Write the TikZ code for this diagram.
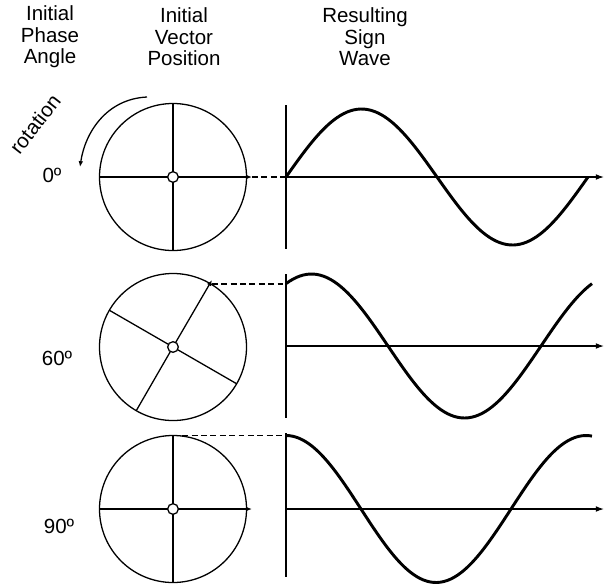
\documentclass[tikz,border=0pt]{standalone}
\usepackage{fontspec}
\setmainfont{Liberation Sans}
\usetikzlibrary{arrows.meta, calc}

\begin{document}
\begin{tikzpicture}[
  x=0.3mm, y=-0.3mm,
  wheel/.style={draw, circle, line width=1.1pt, minimum size=44.1mm, inner sep=0pt, outer sep=0pt},
  hub/.style={draw, circle, fill=white, line width=1.1pt, minimum size=3.2mm, inner sep=0pt, outer sep=0pt},
  spoke/.style={line width=1.1pt},
  vec/.style={line width=1.1pt, -{Latex[length=5pt, width=4pt]}},
  yaxis/.style={line width=1.1pt},
  xaxis/.style={line width=1.1pt, -{Latex[length=7pt, width=5pt]}},
  proj/.style={line width=1.1pt, dash pattern=on 5pt off 3pt},
  wave/.style={line width=2.5pt},
  lbl/.style={font=\fontsize{17.5}{18.4}\selectfont, align=center, inner sep=0pt}
]
  \useasboundingbox (0,0) rectangle (605,583);

  % column headings
  \node[lbl] (hphase) at (50,37) {Initial\\Phase\\Angle};
  \node[lbl] (hvec) at (184,37) {Initial\\Vector\\Position};
  \node[lbl] (hwave) at (365,37) {Resulting\\Sign\\Wave};

  % direction of rotation
  \node[lbl, rotate=52] (rot) at (35,124) {rotation};
  \coordinate (r0) at (147,97);
  \coordinate (r1) at (80,167);
  \draw[vec] (r0) .. controls (106,99) and (85,133) .. (r1);

  % 0 degrees
  \node[lbl] (a1) at (52,175) {0º};
  \node[wheel] (c1) at (173,177) {};
  \node[hub] (h1) at (173,177) {};
  \coordinate (v1) at (252,177);
  \coordinate (w1) at (286,177);
  \draw[spoke] (h1) -- (c1.north);
  \draw[spoke] (h1) -- (c1.south);
  \draw[spoke] (h1) -- (c1.west);
  \draw[vec] (h1) -- (v1);
  \draw[proj] (v1) -- (w1);
  \draw[yaxis] (286,105) -- (286,249);
  \draw[xaxis] (w1) -- (604,177);
  \draw[wave] plot[domain=0:302, samples=90, smooth] ({286+\x}, {177-68*sin(\x/302*360)});

  % 60 degrees
  \node[lbl] (a2) at (57,358) {60º};
  \node[wheel] (c2) at (173,347) {};
  \node[hub] (h2) at (173,347) {};
  \coordinate (v2) at (212,280);
  \coordinate (w2) at (286,284);
  \draw[spoke] (h2) -- (c2.150);
  \draw[spoke] (h2) -- (c2.240);
  \draw[spoke] (h2) -- (c2.330);
  \draw[vec] (h2) -- (v2);
  \draw[proj] (v2 |- w2) -- (w2);
  \draw[yaxis] (286,274) -- (286,418);
  \draw[xaxis] (286,346) -- (604,346);
  \draw[wave] plot[domain=0:306, samples=90, smooth] ({286+\x}, {346-72*sin(\x/306*360+60)});

  % 90 degrees
  \node[lbl] (a3) at (59,526) {90º};
  \node[wheel] (c3) at (173,509) {};
  \node[hub] (h3) at (173,509) {};
  \coordinate (v3) at (252,509);
  \coordinate (w3) at (c3.north -| 286,0);
  \draw[spoke] (h3) -- (c3.north);
  \draw[spoke] (h3) -- (c3.south);
  \draw[spoke] (h3) -- (c3.west);
  \draw[vec] (h3) -- (v3);
  \draw[proj] (c3.north) -- (w3);
  \draw[yaxis] (286,433) -- (286,577);
  \draw[xaxis] (286,509) -- (604,509);
  \draw[wave] plot[domain=0:306, samples=90, smooth] ({286+\x}, {509-73.5*cos(\x/300*360)});
\end{tikzpicture}
\end{document}
